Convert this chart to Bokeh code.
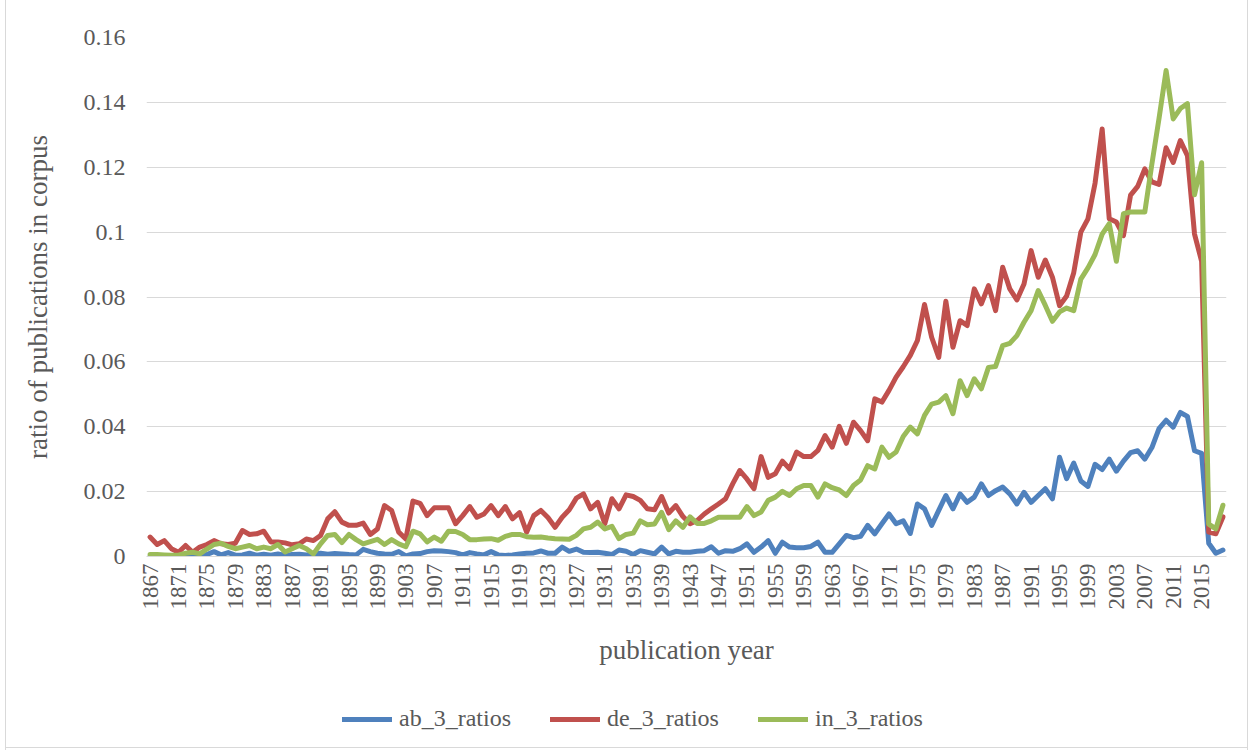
import math
from bokeh.plotting import figure
from bokeh.layouts import column
from bokeh.models import Range1d, FixedTicker, Legend, LegendItem, ColumnDataSource
from bokeh.embed import file_html
from bokeh.resources import INLINE

# ---------------- data ----------------
years = list(range(1867, 2019))

ab_3_ratios = [
    0.0000, 0.0000, 0.0000, 0.0002, 0.0000, 0.0003, 0.0002, 0.0004, 0.0006, 0.0015,  # 1867-1876
    0.0005, 0.0012, 0.0004, 0.0005, 0.0010, 0.0004, 0.0007, 0.0004, 0.0008, 0.0003,  # 1877-1886
    0.0006, 0.0007, 0.0005, 0.0008, 0.0010, 0.0007, 0.0009, 0.0008, 0.0006, 0.0005,  # 1887-1896
    0.0022, 0.0015, 0.0010, 0.0008, 0.0007, 0.0015, 0.0002, 0.0008, 0.0009, 0.0015,  # 1897-1906
    0.0018, 0.0017, 0.0015, 0.0012, 0.0005, 0.0012, 0.0008, 0.0005, 0.0015, 0.0005,  # 1907-1916
    0.0003, 0.0005, 0.0008, 0.0010, 0.0011, 0.0017, 0.0010, 0.0010, 0.0029, 0.0016,  # 1917-1926
    0.0023, 0.0013, 0.0012, 0.0013, 0.0010, 0.0006, 0.0020, 0.0016, 0.0006, 0.0018,  # 1927-1936
    0.0013, 0.0008, 0.0029, 0.0008, 0.0016, 0.0013, 0.0013, 0.0016, 0.0018, 0.0030,  # 1937-1946
    0.0010, 0.0018, 0.0016, 0.0024, 0.0039, 0.0013, 0.0029, 0.0049, 0.0010, 0.0044,  # 1947-1956
    0.0029, 0.0027, 0.0027, 0.0031, 0.0044, 0.0013, 0.0013, 0.0039, 0.0065, 0.0058,  # 1957-1966
    0.0062, 0.0096, 0.0070, 0.0101, 0.0131, 0.0101, 0.0110, 0.0071, 0.0162, 0.0147,  # 1967-1976
    0.0096, 0.0142, 0.0188, 0.0147, 0.0193, 0.0167, 0.0183, 0.0224, 0.0188, 0.0203,  # 1977-1986
    0.0214, 0.0193, 0.0162, 0.0198, 0.0167, 0.0188, 0.0209, 0.0178, 0.0306, 0.0240,  # 1987-1996
    0.0288, 0.0233, 0.0216, 0.0284, 0.0268, 0.0300, 0.0263, 0.0294, 0.0320, 0.0326,  # 1997-2006
    0.0300, 0.0336, 0.0394, 0.0420, 0.0399, 0.0444, 0.0432, 0.0326, 0.0318, 0.0041,  # 2007-2016
    0.0010, 0.0020,                                                                  # 2017-2018
]

de_3_ratios = [
    0.0060, 0.0037, 0.0049, 0.0024, 0.0013, 0.0034, 0.0013, 0.0029, 0.0037, 0.0049,
    0.0039, 0.0037, 0.0041, 0.0080, 0.0068, 0.0070, 0.0078, 0.0045, 0.0045, 0.0042,
    0.0036, 0.0039, 0.0054, 0.0049, 0.0065, 0.0116, 0.0138, 0.0106, 0.0096, 0.0096,
    0.0103, 0.0068, 0.0085, 0.0157, 0.0142, 0.0075, 0.0054, 0.0171, 0.0164, 0.0126,
    0.0150, 0.0150, 0.0150, 0.0101, 0.0126, 0.0154, 0.0121, 0.0131, 0.0157, 0.0126,
    0.0154, 0.0116, 0.0135, 0.0075, 0.0126, 0.0142, 0.0120, 0.0090, 0.0121, 0.0144,
    0.0180, 0.0193, 0.0147, 0.0167, 0.0101, 0.0178, 0.0147, 0.0190, 0.0185, 0.0173,
    0.0147, 0.0144, 0.0185, 0.0134, 0.0157, 0.0123, 0.0101, 0.0111, 0.0131, 0.0147,
    0.0162, 0.0178, 0.0224, 0.0265, 0.0239, 0.0209, 0.0308, 0.0244, 0.0255, 0.0294,
    0.0270, 0.0322, 0.0308, 0.0308, 0.0327, 0.0373, 0.0337, 0.0401, 0.0349, 0.0414,
    0.0388, 0.0357, 0.0486, 0.0476, 0.0512, 0.0553, 0.0585, 0.0620, 0.0666, 0.0777,
    0.0676, 0.0614, 0.0787, 0.0645, 0.0727, 0.0712, 0.0825, 0.0779, 0.0835, 0.0758,
    0.0892, 0.0825, 0.0791, 0.0840, 0.0943, 0.0861, 0.0914, 0.0861, 0.0773, 0.0803,
    0.0875, 0.1000, 0.1041, 0.1151, 0.1318, 0.1041, 0.1031, 0.0989, 0.1114, 0.1141,
    0.1195, 0.1155, 0.1147, 0.1260, 0.1215, 0.1282, 0.1236, 0.0994, 0.0910, 0.0075,
    0.0070, 0.0122,
]

in_3_ratios = [
    0.0006, 0.0006, 0.0005, 0.0004, 0.0004, 0.0010, 0.0013, 0.0008, 0.0023, 0.0037,
    0.0041, 0.0031, 0.0024, 0.0029, 0.0034, 0.0024, 0.0029, 0.0024, 0.0037, 0.0014,
    0.0024, 0.0034, 0.0024, 0.0008, 0.0039, 0.0065, 0.0068, 0.0043, 0.0068, 0.0052,
    0.0039, 0.0046, 0.0053, 0.0037, 0.0052, 0.0039, 0.0030, 0.0078, 0.0070, 0.0045,
    0.0060, 0.0047, 0.0078, 0.0077, 0.0068, 0.0052, 0.0052, 0.0054, 0.0055, 0.0050,
    0.0062, 0.0068, 0.0068, 0.0061, 0.0059, 0.0060, 0.0057, 0.0055, 0.0054, 0.0053,
    0.0065, 0.0085, 0.0090, 0.0106, 0.0085, 0.0093, 0.0055, 0.0068, 0.0072, 0.0110,
    0.0098, 0.0100, 0.0136, 0.0083, 0.0110, 0.0090, 0.0122, 0.0102, 0.0102, 0.0110,
    0.0121, 0.0121, 0.0121, 0.0121, 0.0154, 0.0126, 0.0137, 0.0173, 0.0183, 0.0201,
    0.0188, 0.0209, 0.0219, 0.0219, 0.0183, 0.0224, 0.0212, 0.0205, 0.0188, 0.0219,
    0.0236, 0.0280, 0.0270, 0.0337, 0.0306, 0.0322, 0.0370, 0.0399, 0.0378, 0.0435,
    0.0470, 0.0476, 0.0496, 0.0440, 0.0542, 0.0496, 0.0548, 0.0517, 0.0583, 0.0586,
    0.0650, 0.0657, 0.0681, 0.0722, 0.0758, 0.0820, 0.0774, 0.0725, 0.0754, 0.0766,
    0.0758, 0.0855, 0.0890, 0.0931, 0.0994, 0.1026, 0.0910, 0.1057, 0.1062, 0.1062,
    0.1062, 0.1210, 0.1350, 0.1498, 0.1349, 0.1381, 0.1396, 0.1115, 0.1214, 0.0100,
    0.0085, 0.0158,
]

series_names = ["ab_3_ratios", "de_3_ratios", "in_3_ratios"]
series_colors = ["#4F81BD", "#C0504D", "#9BBB59"]

x_ticks = list(range(1867, 2016, 4))
x_tick_labels = [str(y) for y in x_ticks]
y_ticks = [0, 0.02, 0.04, 0.06, 0.08, 0.1, 0.12, 0.14, 0.16]
y_tick_labels = ["0", "0.02", "0.04", "0.06", "0.08", "0.1", "0.12", "0.14", "0.16"]

x_title = "publication year"
y_title = "ratio of publications in corpus"

# ---------------- styling constants ----------------
FONT = "Liberation Serif"
TXT = "#595959"
GRID = "#D9D9D9"
LINE_W = 5

src = ColumnDataSource(dict(year=years, ab=ab_3_ratios, de=de_3_ratios, inn=in_3_ratios))
cols = ["ab", "de", "inn"]

# ---------------- main chart ----------------
p = figure(width=1253, height=690, output_backend="svg", toolbar_location=None,
           x_range=Range1d(years[0] - 0.5, years[-1] + 0.5),
           y_range=Range1d(y_ticks[0], y_ticks[-1]),
           min_border_left=146, min_border_right=27,
           min_border_top=37, min_border_bottom=134)
p.outline_line_color = None
p.background_fill_color = "white"
p.border_fill_color = None

for col, color in zip(cols, series_colors):
    p.line("year", col, source=src, line_color=color, line_width=LINE_W,
           line_join="round", line_cap="round")

xa = p.xaxis[0]
xa.ticker = FixedTicker(ticks=x_ticks)
xa.major_label_overrides = {t: l for t, l in zip(x_ticks, x_tick_labels)}
xa.major_label_orientation = math.pi / 2
xa.major_tick_out = 0
xa.major_tick_in = 0
xa.minor_tick_out = 0
xa.minor_tick_in = 0
xa.axis_line_color = GRID
xa.axis_line_width = 1
xa.major_label_standoff = 7
xa.major_label_text_font = FONT
xa.major_label_text_font_size = "23px"
xa.major_label_text_color = TXT
xa.axis_label = x_title
xa.axis_label_text_font = FONT
xa.axis_label_text_font_size = "27px"
xa.axis_label_text_font_style = "normal"
xa.axis_label_text_color = TXT
xa.axis_label_standoff = 22

ya = p.yaxis[0]
ya.ticker = FixedTicker(ticks=y_ticks)
ya.major_label_overrides = {t: l for t, l in zip(y_ticks, y_tick_labels)}
ya.major_tick_out = 0
ya.major_tick_in = 0
ya.minor_tick_out = 0
ya.minor_tick_in = 0
ya.axis_line_color = None
ya.major_label_standoff = 21
ya.major_label_text_font = FONT
ya.major_label_text_font_size = "24px"
ya.major_label_text_color = TXT
ya.axis_label = y_title
ya.axis_label_text_font = FONT
ya.axis_label_text_font_size = "27px"
ya.axis_label_text_font_style = "normal"
ya.axis_label_text_color = TXT
ya.axis_label_standoff = 28

p.xgrid.visible = False
p.ygrid.ticker = FixedTicker(ticks=y_ticks)
p.ygrid.grid_line_color = GRID
p.ygrid.grid_line_width = 1

# ---------------- legend strip (same series, kept out of view) ----------------
p2 = figure(width=1253, height=60, output_backend="svg", toolbar_location=None,
            x_range=Range1d(years[0] - 0.5, years[-1] + 0.5),
            y_range=Range1d(10, 11),
            min_border_left=0, min_border_right=0, min_border_top=0, min_border_bottom=0)
p2.axis.visible = False
p2.grid.visible = False
p2.outline_line_color = None
p2.background_fill_color = None
p2.border_fill_color = None

leg_renderers = []
for col, color in zip(cols, series_colors):
    r = p2.line("year", col, source=src, line_color=color, line_width=LINE_W,
                line_join="round", line_cap="round")
    leg_renderers.append(r)

legend = Legend(
    items=[LegendItem(label=n, renderers=[r]) for n, r in zip(series_names, leg_renderers)],
    orientation="horizontal",
    location=(196, 18),
    glyph_width=50, glyph_height=20, label_standoff=7, spacing=39,
    padding=5, margin=0,
    border_line_color=None, background_fill_alpha=0,
    label_text_font=FONT, label_text_font_size="24px", label_text_color=TXT,
)
p2.add_layout(legend, "center")

layout = column(p, p2, spacing=0)
# faint chart-area border (left, right, bottom) painted behind the transparent canvases
layout.styles = {
    "background": (
        "linear-gradient(#D9D9D9, #D9D9D9) 5px 0 / 1px 100% no-repeat, "
        "linear-gradient(#D9D9D9, #D9D9D9) 1247px 0 / 1px 100% no-repeat, "
        "linear-gradient(#D9D9D9, #D9D9D9) 5px 747px / 1243px 1px no-repeat, "
        "#FFFFFF"
    )
}
open("out.html", "w").write(file_html(layout, INLINE))
